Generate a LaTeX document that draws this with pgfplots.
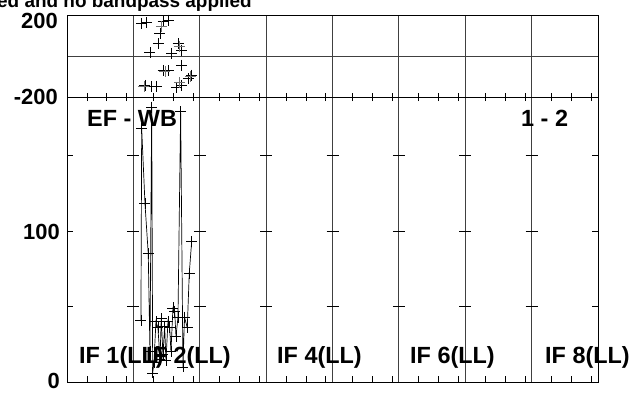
\documentclass[border=0pt]{standalone}
\usepackage{pgfplots}
\pgfplotsset{compat=1.18}
\usepackage{fontspec}
\setmainfont{Liberation Sans}
\newcommand{\lbl}{\bfseries\fontsize{22}{22}\selectfont}
\newcommand{\plbl}{\bfseries\fontsize{23.5}{23.5}\selectfont}
\begin{document}
\begin{tikzpicture}[x=1bp,y=1bp]
\path[use as bounding box] (0,0) rectangle (636,392);
% amplitude panel
\begin{axis}[
  scale only axis, width=531bp, height=285bp,
  at={(67bp,10bp)}, anchor=south west,
  xmin=0, xmax=8, ymin=0, ymax=188.7,
  xtick={1,2,3,4,5,6,7}, xticklabels={}, ytick=\empty,
  major tick length=0pt,
  xmajorgrids, major grid style={black!75, line width=1pt},
  axis line style={black, line width=1pt},
  clip=false,
]
\addplot[black, line width=0.7pt, mark=+, mark size=5.5bp,
  mark options={line width=0.8pt}] coordinates {
(1.114,41) (1.125,168) (1.175,118) (1.224,85) (1.250,20) (1.276,182)
(1.291,6) (1.310,13) (1.340,40) (1.370,36) (1.401,15) (1.420,42)
(1.446,18) (1.471,37) (1.491,14) (1.521,40) (1.547,36) (1.566,20)
(1.596,49) (1.622,47) (1.642,30) (1.672,43) (1.712,179) (1.747,10)
(1.770,43) (1.812,36) (1.842,72) (1.878,93)
};
\end{axis}
% phase panel
\begin{axis}[
  scale only axis, width=531bp, height=81bp,
  at={(67bp,295bp)}, anchor=south west,
  xmin=0, xmax=8, ymin=-200, ymax=200,
  xtick={1,2,3,4,5,6,7}, xticklabels={}, ytick={0}, yticklabels={},
  major tick length=0pt,
  xmajorgrids, ymajorgrids,
  major grid style={black!75, line width=1pt},
  axis line style={black, line width=1pt},
  clip=false,
]
\addplot[only marks, black, mark=+, mark size=5.5bp,
  mark options={line width=0.8pt}] coordinates {
(1.125,163) (1.200,166) (1.450,171) (1.526,179) (1.401,114) (1.375,64)
(1.250,18) (1.577,15) (1.676,64) (1.727,31) (1.450,-68) (1.526,-71)
(1.727,-43) (1.878,-92) (1.827,-109) (1.175,-142) (1.276,-147)
(1.351,-147) (1.652,-153) (1.727,-142)
};
\addplot[only marks, black!55, mark=+, mark size=5.5bp,
  mark options={line width=0.8pt}] coordinates {
(1.160,-150) (1.475,-75) (1.860,-100) (1.700,-130) (1.420,150) (1.690,50)
};
\end{axis}
% tick marks
\foreach \k in {0,...,7}{
  \foreach \f in {0.3,0.6,0.9}{
    \draw[black, line width=0.8pt] ({67+(\k+\f)*66.375},10) -- ++(0,6);
    \draw[black, line width=0.8pt] ({67+(\k+\f)*66.375},291) -- ++(0,8);
  }
}
\foreach \yy in {85.5,161,236.5}{
  \draw[black, line width=0.8pt] (67,\yy) -- ++(6,0);
  \draw[black, line width=0.8pt] (598,\yy) -- ++(-6,0);
  \foreach \k in {1,...,7}{
    \draw[black, line width=0.8pt] ({67+\k*66.375-6},\yy) -- ++(12,0);
  }
}
\foreach \k in {1,...,7}{
  \draw[black, line width=0.8pt] ({67+\k*66.375-6},295) -- ++(12,0);
}
% title
\node[anchor=base west, inner sep=0, font=\bfseries\fontsize{19}{19}\selectfont] at (-3,385) {ed and no bandpass applied};
% tick labels
\node[anchor=east, inner sep=0, font=\lbl] at (58,371) {200};
\node[anchor=east, inner sep=0, font=\lbl] at (58,295) {-200};
\node[anchor=east, inner sep=0, font=\lbl] at (60,160) {100};
\node[anchor=east, inner sep=0, font=\lbl] at (60,11) {0};
% panel labels
\node[anchor=base west, inner sep=0, font=\plbl] at (87,266) {EF - WB};
\node[anchor=base west, inner sep=0, font=\plbl] at (521,266) {1 - 2};
\node[anchor=base west, inner sep=0, font=\plbl] at (79,29) {IF 1(LL)};
\node[anchor=base west, inner sep=0, font=\plbl] at (146,29) {IF 2(LL)};
\node[anchor=base west, inner sep=0, font=\plbl] at (277,29) {IF 4(LL)};
\node[anchor=base west, inner sep=0, font=\plbl] at (410,29) {IF 6(LL)};
\node[anchor=base west, inner sep=0, font=\plbl] at (545,29) {IF 8(LL)};
\end{tikzpicture}
\end{document}
